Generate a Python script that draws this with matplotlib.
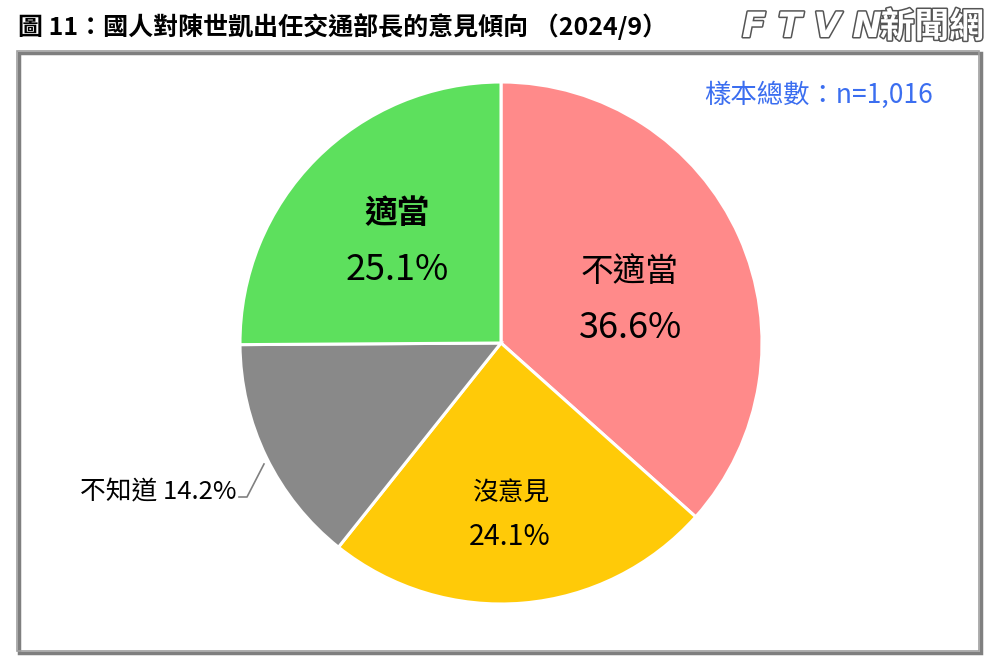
import matplotlib.pyplot as plt
import matplotlib.patheffects as pe
from matplotlib.patches import Rectangle

plt.rcParams['font.family'] = ['Noto Sans CJK TC', 'DejaVu Sans']

# 資料
labels = ['不適當', '沒意見', '不知道', '適當']
values = [36.6, 24.1, 14.2, 25.1]
colors = ['#FF8A8A', '#FFCA08', '#898989', '#5DE05D']

W, H = 1000, 670
fig = plt.figure(figsize=(10, 6.7), dpi=100)
ax = fig.add_axes([0, 0, 1, 1])

# 圓餅圖 (像素座標, y 向上)
cx, cy, r = 501, H - 343, 261
ax.pie(values, colors=colors, startangle=90, counterclock=False,
       center=(cx, cy), radius=r, frame=True,
       wedgeprops=dict(edgecolor='white', linewidth=2.2))
ax.set_xlim(0, W)
ax.set_ylim(0, H)
ax.set_aspect('equal')
ax.axis('off')

# 外框
ax.add_patch(Rectangle((19, H - 653), 962, 600, fill=False,
                       edgecolor='#7f7f7f', linewidth=2.5))
ax.add_patch(Rectangle((17, H - 651), 962, 600, fill=False,
                       edgecolor='#a0a0a0', linewidth=1.2))

# 標題
ax.text(18, H - 27, '圖 11：國人對陳世凱出任交通部長的意見傾向 （2024/9）',
        fontsize=18, fontweight='bold', ha='left', va='center', color='black')

# 標誌
logo_fx = [pe.withStroke(linewidth=2.2, foreground='#555555')]
ax.text(984, H - 27, '新聞網', fontsize=25, fontweight='bold', ha='right',
        va='center', color='white', path_effects=logo_fx)
ax.text(882, H - 27, 'F T V N', fontsize=25, fontweight='bold', ha='right',
        va='center', color='white', family='DejaVu Sans', style='italic',
        path_effects=logo_fx)

# 樣本數
ax.text(819, H - 95, '樣本總數：n=1,016', fontsize=19, color='#3B6EF0',
        ha='center', va='center')

# 標籤
big = 23.5
small = 18.5
ax.text(630, H - 272, labels[0], fontsize=big, ha='center', va='center')
ax.text(631, H - 328, f'{values[0]}%', fontsize=big + 2.5, ha='center', va='center')
ax.text(511, H - 493, labels[1], fontsize=small, ha='center', va='center')
ax.text(510, H - 537, f'{values[1]}%', fontsize=small + 2, ha='center', va='center')
ax.text(397, H - 213, labels[3], fontsize=big, fontweight='bold', ha='center', va='center')
ax.text(397, H - 270, f'{values[3]}%', fontsize=big + 2.5, ha='center', va='center')
ax.text(237, H - 492, f'{labels[2]} {values[2]}%', fontsize=small,
        ha='right', va='center')
ax.plot([239, 247, 264], [H - 497, H - 497, H - 464], color='#808080', linewidth=1.2)

fig.savefig('out.png', dpi=100)
